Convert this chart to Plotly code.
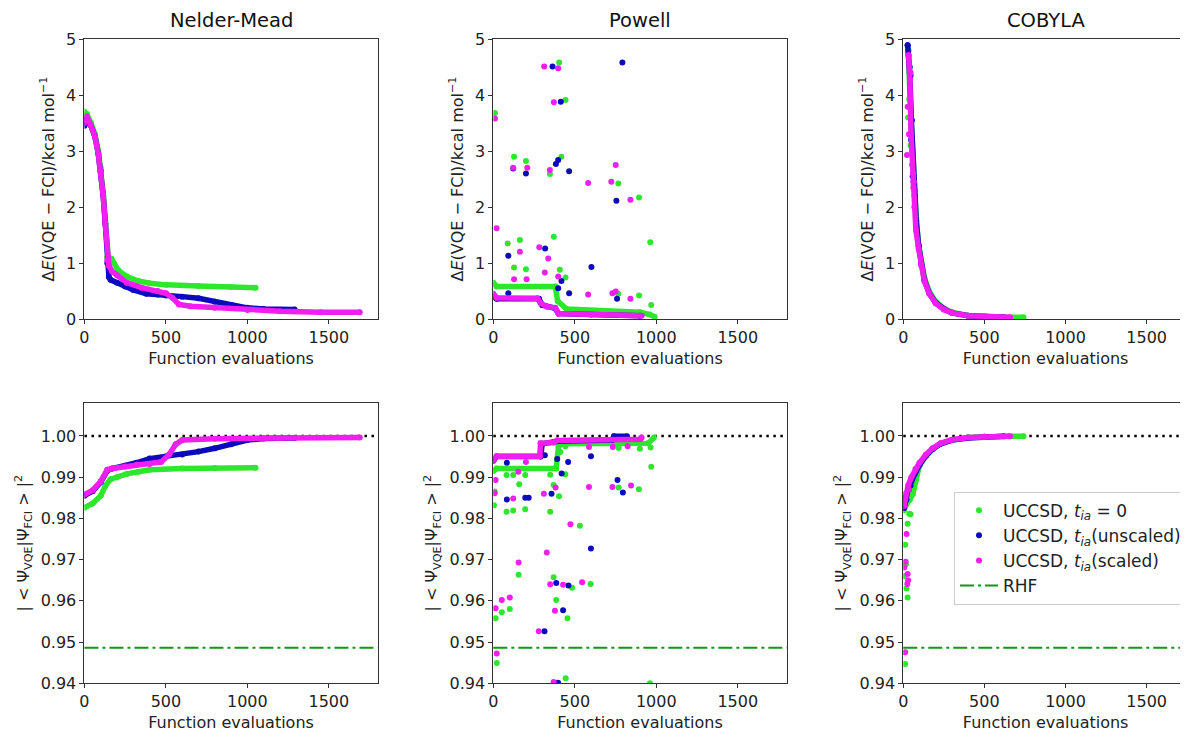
import plotly.graph_objects as go

# ---------------- data ----------------
# Nelder-Mead, energy error (kcal/mol)
nm_de_g_x = [0, 15, 40, 65, 85, 100, 115, 128, 140, 150, 165, 180, 210, 260, 330, 400, 500, 700, 900, 1050]
nm_de_g_y = [3.70, 3.66, 3.50, 3.30, 3.00, 2.70, 2.25, 1.75, 1.10, 0.95, 1.08, 1.00, 0.86, 0.76, 0.68, 0.64, 0.61, 0.59, 0.57, 0.56]
nm_de_b_x = [0, 15, 40, 65, 85, 100, 115, 128, 140, 150, 160, 200, 250, 300, 380, 450, 500, 600, 700, 800, 900, 1000, 1100, 1290]
nm_de_b_y = [3.45, 3.58, 3.45, 3.25, 2.95, 2.65, 2.20, 1.70, 1.00, 0.75, 0.70, 0.65, 0.58, 0.52, 0.45, 0.44, 0.42, 0.40, 0.37, 0.31, 0.25, 0.20, 0.18, 0.17]
nm_de_m_x = [0, 15, 40, 65, 85, 100, 115, 128, 140, 150, 170, 200, 260, 350, 450, 500, 540, 580, 650, 800, 1000, 1200, 1450, 1690]
nm_de_m_y = [3.50, 3.62, 3.45, 3.25, 2.95, 2.65, 2.20, 1.70, 1.05, 0.95, 0.85, 0.78, 0.65, 0.56, 0.50, 0.46, 0.38, 0.26, 0.23, 0.20, 0.16, 0.14, 0.12, 0.12]

# Nelder-Mead, overlap with FCI
nm_ov_g_x = [0, 50, 100, 130, 160, 200, 260, 330, 400, 600, 800, 1050]
nm_ov_g_y = [0.9826, 0.9836, 0.9855, 0.9880, 0.9895, 0.9900, 0.9908, 0.9913, 0.9918, 0.9921, 0.9922, 0.9923]
nm_ov_b_x = [0, 50, 100, 140, 170, 250, 320, 400, 500, 600, 700, 800, 900, 1000, 1100, 1290]
nm_ov_b_y = [0.9855, 0.9866, 0.9888, 0.9916, 0.9921, 0.9928, 0.9935, 0.9945, 0.9950, 0.9955, 0.9962, 0.9970, 0.9980, 0.9990, 0.9994, 0.9995]
nm_ov_m_x = [0, 50, 100, 140, 170, 250, 320, 400, 470, 520, 560, 600, 800, 1200, 1690]
nm_ov_m_y = [0.9858, 0.9868, 0.9890, 0.9918, 0.9921, 0.9926, 0.9930, 0.9932, 0.9937, 0.9955, 0.9980, 0.9990, 0.9993, 0.9995, 0.9996]

# Powell, energy error: dense plateaus
pw_de_g_x = [0, 20, 380, 395, 450, 700, 900, 960, 990]
pw_de_g_y = [0.65, 0.58, 0.58, 0.32, 0.18, 0.14, 0.12, 0.08, 0.04]
pw_de_b_x = [0, 20, 280, 300, 380, 400, 600, 900]
pw_de_b_y = [0.40, 0.36, 0.36, 0.25, 0.19, 0.10, 0.08, 0.06]
pw_de_m_x = [0, 20, 270, 290, 330, 380, 400, 600, 910]
pw_de_m_y = [0.45, 0.38, 0.37, 0.28, 0.22, 0.20, 0.10, 0.09, 0.06]
# Powell, energy error: scattered evaluations
pw_de_g_sx = [10, 127, 200, 347, 418, 404, 443, 88, 163, 371, 127, 200, 408, 443, 767, 894, 963, 894, 969, 767]
pw_de_g_sy = [3.68, 2.90, 2.82, 2.59, 2.90, 4.58, 3.91, 1.35, 1.41, 1.47, 0.92, 0.89, 0.88, 0.74, 2.42, 2.17, 1.37, 0.42, 0.25, 0.45]
pw_de_b_sx = [363, 792, 414, 398, 384, 465, 200, 122, 92, 318, 602, 755, 398, 418, 465, 92, 759]
pw_de_b_sy = [4.51, 4.58, 3.88, 2.84, 2.77, 2.64, 2.60, 2.69, 1.13, 1.26, 0.93, 2.11, 0.55, 0.68, 0.46, 0.46, 0.36]
pw_de_m_sx = [10, 20, 122, 208, 282, 312, 337, 347, 371, 398, 316, 127, 204, 163, 398, 582, 724, 751, 841, 582, 731, 751, 841]
pw_de_m_sy = [3.58, 1.62, 2.70, 2.70, 1.28, 4.51, 1.08, 2.66, 3.87, 4.48, 0.83, 0.71, 0.71, 1.20, 0.76, 2.43, 2.45, 2.75, 2.13, 0.44, 0.46, 0.49, 0.36]

# Powell, overlap: dense plateaus
pw_ov_g_x = [0, 20, 385, 400, 420, 950, 985]
pw_ov_g_y = [0.9915, 0.9921, 0.9921, 0.9975, 0.9981, 0.9982, 0.9996]
pw_ov_b_x = [0, 20, 290, 300, 390, 730, 740, 820]
pw_ov_b_y = [0.9940, 0.9950, 0.9950, 0.9981, 0.9987, 0.9990, 0.9999, 0.9999]
pw_ov_m_x = [0, 20, 285, 290, 370, 390, 900, 910]
pw_ov_m_y = [0.9940, 0.9951, 0.9951, 0.9982, 0.9984, 0.9989, 0.9992, 0.9996]
# Powell, overlap: scattered evaluations
pw_ov_g_sx = [4, 8, 14, 21, 52, 81, 81, 101, 122, 122, 155, 159, 196, 196, 349, 349, 370, 370, 386, 403, 411, 442, 442, 455, 483, 531, 597, 444, 769, 769, 893, 899, 969, 965, 961]
pw_ov_g_sy = [0.9832, 0.9865, 0.9558, 0.9449, 0.9572, 0.9816, 0.9905, 0.9580, 0.9819, 0.9905, 0.9663, 0.9883, 0.9822, 0.9905, 0.9816, 0.9906, 0.9657, 0.9881, 0.9602, 0.9854, 0.9961, 0.9907, 0.9975, 0.9558, 0.9632, 0.9782, 0.9641, 0.9412, 0.9971, 0.9875, 0.9871, 0.9969, 0.9925, 0.9972, 0.9400]
pw_ov_b_sx = [83, 83, 196, 217, 314, 316, 357, 386, 428, 461, 459, 419, 392, 599, 599, 762, 795, 397]
pw_ov_b_sy = [0.9935, 0.9846, 0.9850, 0.9850, 0.9526, 0.9953, 0.9860, 0.9643, 0.9577, 0.9637, 0.9937, 0.9909, 0.9944, 0.9951, 0.9727, 0.9893, 0.9863, 0.9401]
pw_ov_m_sx = [8, 14, 14, 21, 52, 101, 122, 155, 153, 200, 279, 310, 328, 349, 378, 370, 382, 428, 473, 545, 587, 587, 731, 845, 733, 824]
pw_ov_m_sy = [0.9861, 0.9893, 0.9582, 0.9472, 0.9602, 0.9608, 0.9848, 0.9693, 0.9913, 0.9937, 0.9526, 0.9860, 0.9717, 0.9640, 0.9576, 0.9403, 0.9875, 0.9639, 0.9786, 0.9645, 0.9876, 0.9973, 0.9876, 0.9880, 0.9973, 0.9975]

# COBYLA, energy error
cb_de_g_x = [30, 40, 50, 60, 70, 80, 95, 110, 130, 160, 200, 250, 300, 400, 500, 600, 741]
cb_de_g_y = [4.80, 3.90, 3.40, 2.90, 2.30, 1.80, 1.32, 1.02, 0.74, 0.49, 0.31, 0.19, 0.12, 0.06, 0.04, 0.03, 0.03]
cb_de_b_x = [27, 40, 50, 60, 70, 80, 95, 110, 130, 160, 200, 250, 300, 400, 500, 620]
cb_de_b_y = [4.89, 4.40, 3.55, 2.80, 2.20, 1.75, 1.30, 0.98, 0.70, 0.46, 0.29, 0.18, 0.11, 0.06, 0.04, 0.03]
cb_de_m_x = [33, 41, 48, 55, 62, 68, 78, 95, 110, 130, 160, 200, 250, 300, 400, 500, 658]
cb_de_m_y = [4.71, 4.27, 3.30, 2.75, 2.45, 2.00, 1.59, 1.25, 0.96, 0.68, 0.45, 0.28, 0.17, 0.11, 0.06, 0.04, 0.03]
cb_de_g_sx = [33, 37, 30, 55, 45, 60]
cb_de_g_sy = [4.80, 3.93, 3.60, 3.00, 3.10, 2.60]
cb_de_b_sx = [27, 53, 45, 40, 48, 58, 65]
cb_de_b_sy = [4.89, 3.55, 4.35, 4.50, 3.20, 2.55, 2.40]
cb_de_m_sx = [23, 27, 33, 41, 45, 35, 60, 65, 62]
cb_de_m_sy = [2.93, 3.79, 4.71, 4.27, 4.40, 3.30, 2.60, 2.45, 2.35]

# COBYLA, overlap
cb_ov_g_x = [5, 20, 40, 60, 80, 100, 140, 180, 230, 300, 400, 500, 650, 741]
cb_ov_g_y = [0.9820, 0.9835, 0.9845, 0.9860, 0.9895, 0.9928, 0.9952, 0.9968, 0.9981, 0.9990, 0.9996, 0.9998, 0.9999, 0.9999]
cb_ov_b_x = [5, 15, 30, 50, 75, 100, 140, 180, 230, 300, 400, 500, 620]
cb_ov_b_y = [0.9825, 0.9852, 0.9872, 0.9890, 0.9913, 0.9930, 0.9952, 0.9968, 0.9981, 0.9990, 0.9995, 0.9998, 0.9999]
cb_ov_m_x = [5, 15, 30, 50, 75, 100, 140, 180, 230, 300, 400, 500, 658]
cb_ov_m_y = [0.9830, 0.9860, 0.9880, 0.9900, 0.9920, 0.9935, 0.9955, 0.9970, 0.9982, 0.9991, 0.9996, 0.9998, 0.9999]
cb_ov_g_sx = [37, 27, 12, 16, 27, 12, 20, 45, 8, 30]
cb_ov_g_sy = [0.9811, 0.9787, 0.9736, 0.9689, 0.9608, 0.9447, 0.9630, 0.9810, 0.9660, 0.9850]
cb_ov_b_sx = [20, 35, 45]
cb_ov_b_sy = [0.9845, 0.9870, 0.9880]
cb_ov_m_sx = [20, 6, 27, 25, 12, 30, 15, 35]
cb_ov_m_sy = [0.9762, 0.9681, 0.9665, 0.9641, 0.9475, 0.9650, 0.9695, 0.9870]

RHF_OVERLAP = 0.9486
FCI_OVERLAP = 1.0

titles = ["Nelder-Mead", "Powell", "COBYLA"]
legend_names = ["UCCSD, <i>t</i><sub><i>ia</i></sub> = 0",
                "UCCSD, <i>t</i><sub><i>ia</i></sub>(unscaled)",
                "UCCSD, <i>t</i><sub><i>ia</i></sub>(scaled)",
                "RHF"]
x_ticks = [0, 500, 1000, 1500]
de_ticks = [0, 1, 2, 3, 4, 5]
ov_ticks = [0.94, 0.95, 0.96, 0.97, 0.98, 0.99, 1.00]

# ---------------- style ----------------
GREEN = "#2fe62f"
BLUE = "#0b0bbd"
MAGENTA = "#f01ef0"
RHF_COLOR = "#159415"
FONT = "DejaVu Sans"
AX_COLOR = "#333333"

# the page body adds an 8 px margin, so the figure is 1180 x 725 placed at (8, 8)
colx = [[0.0648, 0.3133], [0.4113, 0.6599], [0.7587, 1.0]]
rowy = [[0.5710, 0.9572], [0.0686, 0.4552]]
xranges = [[0, 1800], [0, 1800], [0, 1755]]

fig = go.Figure()

panels = [
    (0, 0, [(nm_de_g_x, nm_de_g_y), (nm_de_b_x, nm_de_b_y), (nm_de_m_x, nm_de_m_y)], None),
    (0, 1, [(pw_de_g_x, pw_de_g_y), (pw_de_b_x, pw_de_b_y), (pw_de_m_x, pw_de_m_y)],
     [(pw_de_g_sx, pw_de_g_sy), (pw_de_b_sx, pw_de_b_sy), (pw_de_m_sx, pw_de_m_sy)]),
    (0, 2, [(cb_de_g_x, cb_de_g_y), (cb_de_b_x, cb_de_b_y), (cb_de_m_x, cb_de_m_y)],
     [(cb_de_g_sx, cb_de_g_sy), (cb_de_b_sx, cb_de_b_sy), (cb_de_m_sx, cb_de_m_sy)]),
    (1, 0, [(nm_ov_g_x, nm_ov_g_y), (nm_ov_b_x, nm_ov_b_y), (nm_ov_m_x, nm_ov_m_y)], None),
    (1, 1, [(pw_ov_g_x, pw_ov_g_y), (pw_ov_b_x, pw_ov_b_y), (pw_ov_m_x, pw_ov_m_y)],
     [(pw_ov_g_sx, pw_ov_g_sy), (pw_ov_b_sx, pw_ov_b_sy), (pw_ov_m_sx, pw_ov_m_sy)]),
    (1, 2, [(cb_ov_g_x, cb_ov_g_y), (cb_ov_b_x, cb_ov_b_y), (cb_ov_m_x, cb_ov_m_y)],
     [(cb_ov_g_sx, cb_ov_g_sy), (cb_ov_b_sx, cb_ov_b_sy), (cb_ov_m_sx, cb_ov_m_sy)]),
]
colors = [GREEN, BLUE, MAGENTA]

layout_axes = {}
shapes = []
annotations = []
txt_font = dict(family=FONT, size=16, color="#222222")

for r, c, dense, scat in panels:
    idx = r * 3 + c + 1
    xa = "x" if idx == 1 else f"x{idx}"
    ya = "y" if idx == 1 else f"y{idx}"
    for k in range(3):
        dx, dy = dense[k]
        fig.add_trace(go.Scatter(x=dx, y=dy, mode="lines+markers", xaxis=xa, yaxis=ya,
                                 line=dict(color=colors[k], width=5.5),
                                 marker=dict(color=colors[k], size=6),
                                 showlegend=False, hoverinfo="skip"))
        if scat is not None:
            sx, sy = scat[k]
            fig.add_trace(go.Scatter(x=sx, y=sy, mode="markers", xaxis=xa, yaxis=ya,
                                     marker=dict(color=colors[k], size=6),
                                     showlegend=False, hoverinfo="skip"))

    common = dict(showline=True, linecolor=AX_COLOR, linewidth=1, ticks="outside",
                  ticklen=4, tickcolor=AX_COLOR, showgrid=False, zeroline=False,
                  automargin=False, tickfont=txt_font)
    xkey = "xaxis" if idx == 1 else f"xaxis{idx}"
    ykey = "yaxis" if idx == 1 else f"yaxis{idx}"
    layout_axes[xkey] = dict(common, domain=colx[c], range=xranges[c], anchor=ya,
                             tickvals=x_ticks, mirror=True,
                             title=dict(text="Function evaluations", font=txt_font, standoff=6))
    if r == 0:
        ytitle = "Δ<i>E</i>(VQE − FCI)/kcal mol<sup>−1</sup>"
        layout_axes[ykey] = dict(common, domain=rowy[r], range=[0, 5], anchor=xa,
                                 tickvals=de_ticks, mirror=(c != 2),
                                 title=dict(text=ytitle, font=txt_font, standoff=7))
    else:
        ytitle = "| < Ψ<sub>VQE</sub>|Ψ<sub>FCI</sub> > |<sup>2</sup>"
        layout_axes[ykey] = dict(common, domain=rowy[r], range=[0.94, 1.008], anchor=xa,
                                 tickvals=ov_ticks, tickformat=".2f", mirror=(c != 2),
                                 title=dict(text=ytitle, font=txt_font, standoff=7))
        shapes.append(dict(type="line", xref=f"{xa} domain", yref=ya, x0=0, x1=1,
                           y0=FCI_OVERLAP, y1=FCI_OVERLAP, layer="below",
                           line=dict(color="black", width=2.5, dash="2.5px,4.5px")))
        shapes.append(dict(type="line", xref=f"{xa} domain", yref=ya, x0=0, x1=1,
                           y0=RHF_OVERLAP, y1=RHF_OVERLAP, layer="above",
                           line=dict(color=RHF_COLOR, width=2, dash="14px,4px,3px,4px")))
    if r == 0:
        annotations.append(dict(text=titles[c], xref="paper", yref="paper",
                                x=(colx[c][0] + colx[c][1]) / 2, y=rowy[0][1],
                                xanchor="center", yanchor="bottom", yshift=5, showarrow=False,
                                font=dict(family=FONT, size=19.5, color="#111111")))

# legend entries (in the COBYLA overlap panel)
for k in range(3):
    fig.add_trace(go.Scatter(x=[None], y=[None], mode="markers", xaxis="x6", yaxis="y6",
                             marker=dict(color=colors[k], size=6), name=legend_names[k],
                             showlegend=True, legendrank=k + 1))
fig.add_trace(go.Scatter(x=[None], y=[None], mode="lines", xaxis="x6", yaxis="y6",
                         line=dict(color=RHF_COLOR, width=2, dash="14px,4px,3px,4px"),
                         name=legend_names[3], showlegend=True, legendrank=4))

fig.update_layout(
    width=1180, height=725,
    margin=dict(l=0, r=0, t=0, b=0, autoexpand=False),
    paper_bgcolor="white", plot_bgcolor="white",
    font=txt_font,
    shapes=shapes, annotations=annotations,
    legend=dict(x=0.8017, y=0.3328, xanchor="left", yanchor="top",
                bgcolor="rgba(255,255,255,0.9)", bordercolor="#cccccc", borderwidth=1,
                font=dict(family=FONT, size=17, color="#222222"),
                tracegroupgap=0, itemwidth=38),
    **layout_axes,
)

fig.write_html("out.html")
